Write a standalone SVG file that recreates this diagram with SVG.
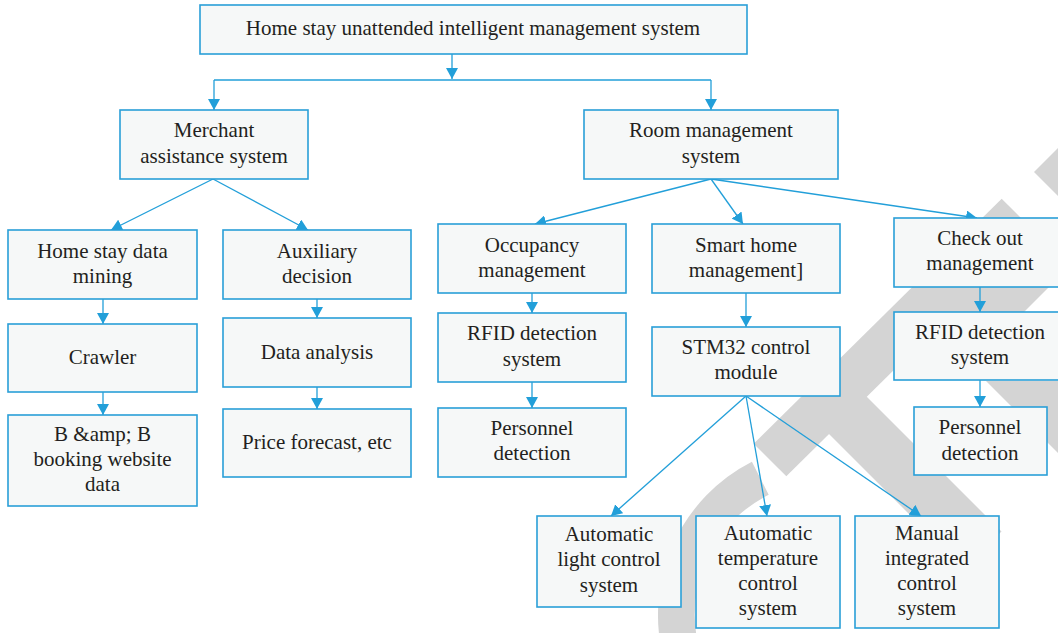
<svg xmlns="http://www.w3.org/2000/svg" width="1058" height="633" viewBox="0 0 1058 633">
<defs>
<marker id="ah" markerUnits="userSpaceOnUse" markerWidth="12" markerHeight="12" refX="11" refY="6" orient="auto">
<path d="M0,0 L11,6 L0,12 z" fill="#229fd9"/>
</marker>
</defs>
<style>
.box{fill:#f6f8f8;stroke:#2a9fd8;stroke-width:1.6}
.t{fill:#231f20;text-anchor:middle}
.c{fill:none;stroke:#229fd9;stroke-width:1.3}
.a{marker-end:url(#ah)}
.wm{fill:#d4d4d4}
</style>
<rect width="1058" height="633" fill="#ffffff"/>
<g id="watermark">
<polygon class="wm" points="753.7,443.7 786.3,476.3 1034.3,231.3 1001.7,198.7"/>
<polygon class="wm" points="822.5,427.5 860,390 1001.5,531.5 964,569"/>
<polygon class="wm" points="1034,172 1058,148 1058,196"/>
<polygon class="wm" points="940,282 1054,282 1022,314 920,314"/>
<polygon class="wm" points="986,381 1058,381 1058,453"/>
<path d="M760.3,478.2 A153.5,153.5 0 0 0 681.7,654.7" fill="none" stroke="#d4d4d4" stroke-width="37"/>
</g>
<g id="connectors">
<line class="c a" x1="452" y1="54" x2="452" y2="79"/>
<line class="c" x1="214" y1="80" x2="711" y2="80"/>
<line class="c a" x1="214" y1="80" x2="214" y2="110"/>
<line class="c a" x1="711" y1="80" x2="711" y2="110"/>
<line class="c a" x1="213" y1="179" x2="111" y2="230"/>
<line class="c a" x1="213" y1="179" x2="308" y2="230"/>
<line class="c a" x1="103" y1="299" x2="103" y2="324"/>
<line class="c a" x1="103" y1="392" x2="103" y2="415"/>
<line class="c a" x1="317" y1="299" x2="317" y2="318"/>
<line class="c a" x1="317" y1="387" x2="317" y2="409"/>
<line class="c a" x1="711" y1="179" x2="535" y2="224"/>
<line class="c a" x1="711" y1="179" x2="743" y2="224"/>
<line class="c a" x1="711" y1="179" x2="977" y2="218"/>
<line class="c a" x1="532" y1="293" x2="532" y2="313"/>
<line class="c a" x1="532" y1="382" x2="532" y2="408"/>
<line class="c a" x1="746" y1="293" x2="746" y2="327"/>
<line class="c a" x1="980" y1="287" x2="980" y2="312"/>
<line class="c a" x1="980" y1="380" x2="980" y2="407"/>
<line class="c a" x1="746" y1="396" x2="611" y2="516"/>
<line class="c a" x1="746" y1="396" x2="767" y2="516"/>
<line class="c a" x1="746" y1="396" x2="921" y2="516"/>
</g>
<g id="nodes" font-family="Liberation Serif, serif" font-size="21">
<g id="n-top"><rect class="box" x="200" y="5" width="547" height="49"/><text class="t" x="473" y="35">Home stay unattended intelligent management system</text></g>
<g id="n-merchant"><rect class="box" x="120" y="110" width="188" height="69"/><text class="t" x="214" y="137">Merchant</text><text class="t" x="214" y="163">assistance system</text></g>
<g id="n-room"><rect class="box" x="584" y="110" width="254" height="69"/><text class="t" x="711" y="137">Room management</text><text class="t" x="711" y="163">system</text></g>
<g id="n-homestay"><rect class="box" x="8" y="230" width="189" height="69"/><text class="t" x="102.5" y="258">Home stay data</text><text class="t" x="102.5" y="283">mining</text></g>
<g id="n-aux"><rect class="box" x="223" y="230" width="188" height="69"/><text class="t" x="317" y="258">Auxiliary</text><text class="t" x="317" y="283">decision</text></g>
<g id="n-crawler"><rect class="box" x="8" y="324" width="189" height="68"/><text class="t" x="102.5" y="364">Crawler</text></g>
<g id="n-bb"><rect class="box" x="8" y="415" width="189" height="91"/><text class="t" x="102.5" y="441">B &amp;amp; B</text><text class="t" x="102.5" y="466">booking website</text><text class="t" x="102.5" y="491">data</text></g>
<g id="n-data"><rect class="box" x="223" y="318" width="188" height="69"/><text class="t" x="317" y="359">Data analysis</text></g>
<g id="n-price"><rect class="box" x="223" y="409" width="188" height="68"/><text class="t" x="317" y="449">Price forecast, etc</text></g>
<g id="n-occupancy"><rect class="box" x="438" y="224" width="188" height="69"/><text class="t" x="532" y="252">Occupancy</text><text class="t" x="532" y="277">management</text></g>
<g id="n-rfid1"><rect class="box" x="438" y="313" width="188" height="69"/><text class="t" x="532" y="340">RFID detection</text><text class="t" x="532" y="366">system</text></g>
<g id="n-pers1"><rect class="box" x="438" y="408" width="188" height="69"/><text class="t" x="532" y="435">Personnel</text><text class="t" x="532" y="460">detection</text></g>
<g id="n-smart"><rect class="box" x="652" y="224" width="188" height="69"/><text class="t" x="746" y="252">Smart home</text><text class="t" x="746" y="277">management]</text></g>
<g id="n-stm"><rect class="box" x="652" y="327" width="188" height="69"/><text class="t" x="746" y="354">STM32 control</text><text class="t" x="746" y="379">module</text></g>
<g id="n-checkout"><rect class="box" x="894" y="218" width="180" height="69"/><text class="t" x="980" y="245">Check out</text><text class="t" x="980" y="270">management</text></g>
<g id="n-rfid2"><rect class="box" x="894" y="312" width="180" height="68"/><text class="t" x="980" y="339">RFID detection</text><text class="t" x="980" y="364">system</text></g>
<g id="n-pers2"><rect class="box" x="914" y="407" width="133" height="68"/><text class="t" x="980" y="434">Personnel</text><text class="t" x="980" y="460">detection</text></g>
<g id="n-light"><rect class="box" x="537" y="516" width="144" height="91"/><text class="t" x="609" y="541">Automatic</text><text class="t" x="609" y="566">light control</text><text class="t" x="609" y="592">system</text></g>
<g id="n-temp"><rect class="box" x="696" y="516" width="144" height="112"/><text class="t" x="768" y="540">Automatic</text><text class="t" x="768" y="565">temperature</text><text class="t" x="768" y="590">control</text><text class="t" x="768" y="615">system</text></g>
<g id="n-manual"><rect class="box" x="855" y="516" width="144" height="112"/><text class="t" x="927" y="540">Manual</text><text class="t" x="927" y="565">integrated</text><text class="t" x="927" y="590">control</text><text class="t" x="927" y="615">system</text></g>
</g>
</svg>
